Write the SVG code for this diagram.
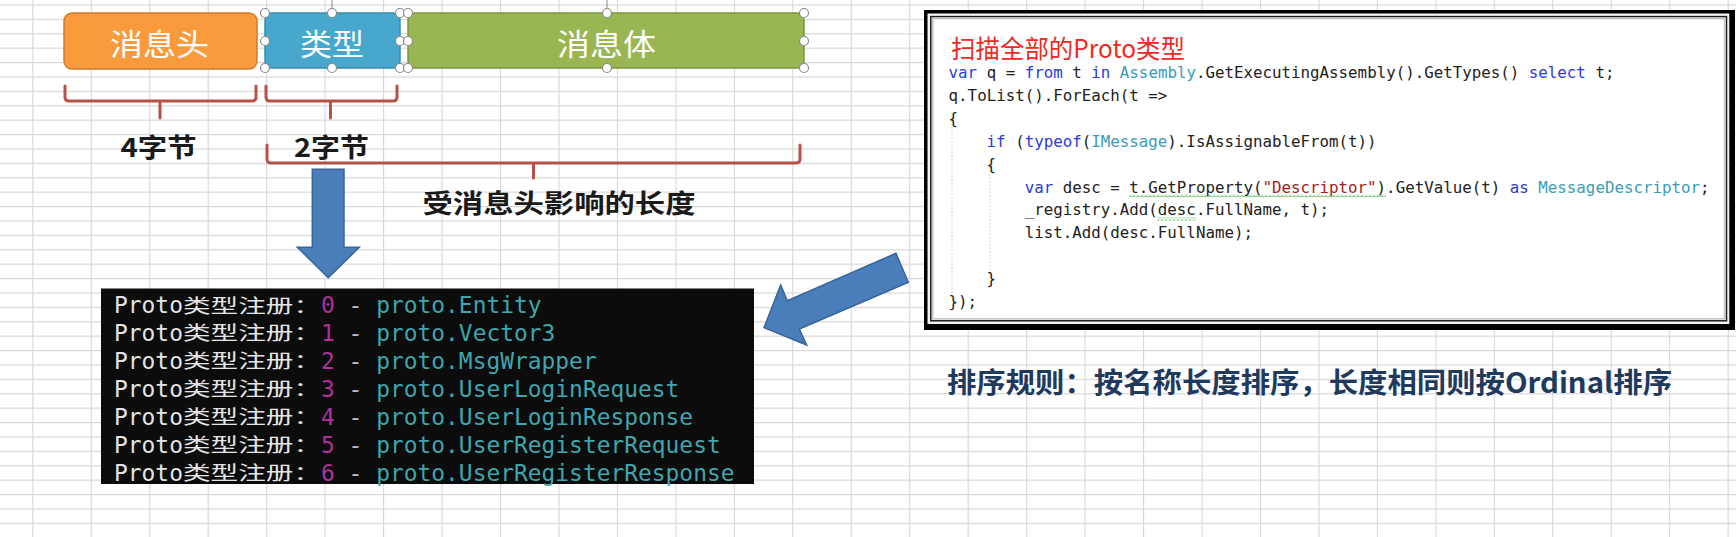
<svg xmlns="http://www.w3.org/2000/svg" width="1736" height="537" viewBox="0 0 1736 537">
<style>
.cjk{font-family:'Noto Sans CJK SC','Noto Sans',sans-serif}
.boxlbl{font-size:30px;fill:#ffffff}
.brace{fill:none;stroke:#b5524a;stroke-width:3;stroke-linecap:round;stroke-linejoin:round}
.handle{fill:#ffffff;stroke:#8a8a8a;stroke-width:1.2}
.rot{stroke:#8a8a8a;stroke-width:1}
.blk{fill:#4a7ebb;stroke:#3a6496;stroke-width:1.5;stroke-linejoin:miter}
.kw{fill:#2a3bd6}
.ty{fill:#3b9cb8}
.st{fill:#a8201a}
.tw{fill:#e4e4e4}
.num{fill:#b0309a}
.dash{fill:#bdbdbd}
.nm{fill:#3fa5ae}
.mono{font-family:'DejaVu Sans Mono','Liberation Mono',monospace}
.code{font-size:15.8px;fill:#222222}
.term{font-size:22.9px}
</style>
<defs>
<pattern id="grid" patternUnits="userSpaceOnUse" x="32.3" y="18.8" width="58.46" height="14.4">
<path d="M0 0.5H58.46M0.5 0V14.4" stroke="#d6d6d6" stroke-width="1.2" fill="none"/>
</pattern>
<pattern id="wavy" patternUnits="userSpaceOnUse" x="0" y="0" width="4" height="3">
<path d="M0 2.5L2 0.5L4 2.5" stroke="#3aa53a" stroke-width="1" fill="none"/>
</pattern>
</defs>
<rect x="0" y="0" width="1736" height="537" fill="#ffffff"/>
<rect x="0" y="0" width="1736" height="537" fill="url(#grid)"/>

<g id="header-box">
<rect x="64" y="13" width="193" height="56" rx="8" fill="#f99b3c" stroke="#cf7b2c" stroke-width="1.5"/>
<text class="cjk boxlbl" x="110" y="54.5" textLength="99" lengthAdjust="spacingAndGlyphs">消息头</text>
</g>
<g id="type-box">
<rect x="265" y="13" width="135" height="55" rx="7" fill="#47a7cd" stroke="#3a8aad" stroke-width="1.5"/>
<text class="cjk boxlbl" x="300" y="54.5" textLength="64" lengthAdjust="spacingAndGlyphs">类型</text>
<line class="rot" x1="332" y1="0" x2="332" y2="13"/>
<circle class="handle" cx="265" cy="13" r="4.5"/><circle class="handle" cx="332" cy="13" r="4.5"/><circle class="handle" cx="400" cy="13" r="4.5"/>
<circle class="handle" cx="265" cy="41" r="4.5"/><circle class="handle" cx="400" cy="41" r="4.5"/>
<circle class="handle" cx="265" cy="68" r="4.5"/><circle class="handle" cx="332" cy="68" r="4.5"/><circle class="handle" cx="400" cy="68" r="4.5"/>
</g>
<g id="body-box">
<rect x="408" y="13" width="396" height="55" rx="7" fill="#9ab653" stroke="#7a9640" stroke-width="1.5"/>
<text class="cjk boxlbl" x="557" y="54.5" textLength="99" lengthAdjust="spacingAndGlyphs">消息体</text>
<line class="rot" x1="607" y1="0" x2="607" y2="13"/>
<circle class="handle" cx="408" cy="13" r="4.5"/><circle class="handle" cx="607" cy="13" r="4.5"/><circle class="handle" cx="804" cy="13" r="4.5"/>
<circle class="handle" cx="408" cy="41" r="4.5"/><circle class="handle" cx="804" cy="41" r="4.5"/>
<circle class="handle" cx="408" cy="68" r="4.5"/><circle class="handle" cx="607" cy="68" r="4.5"/><circle class="handle" cx="804" cy="68" r="4.5"/>
</g>

<g id="brace-4bytes">
<path class="brace" d="M65 86V97Q65 101 69 101H252Q256 101 256 97V86M160 101V118"/>
<text class="cjk" x="120.5" y="156.5" font-size="26" font-weight="bold" fill="#1a1a1a" textLength="76" lengthAdjust="spacingAndGlyphs">4字节</text>
</g>
<g id="brace-2bytes">
<path class="brace" d="M266 86V97Q266 101 270 101H393Q397 101 397 97V86M330.5 101V118"/>
<text class="cjk" x="294" y="156.5" font-size="26" font-weight="bold" fill="#1a1a1a" textLength="75" lengthAdjust="spacingAndGlyphs">2字节</text>
</g>
<g id="brace-affected">
<path class="brace" d="M267 145V159Q267 163 271 163H796Q800 163 800 159V145M533.5 163V178"/>
<text class="cjk" x="422.5" y="213" font-size="26" font-weight="bold" fill="#1a1a1a" textLength="273" lengthAdjust="spacingAndGlyphs">受消息头影响的长度</text>
</g>

<g id="terminal">
<rect x="101" y="288.5" width="653" height="195.5" fill="#0c0c0c"/>
<g class="mono term">
<text class="tw" x="114" y="313.3">Proto</text>
<text class="tw" x="114" y="341.2">Proto</text>
<text class="tw" x="114" y="369.1">Proto</text>
<text class="tw" x="114" y="397">Proto</text>
<text class="tw" x="114" y="424.9">Proto</text>
<text class="tw" x="114" y="452.8">Proto</text>
<text class="tw" x="114" y="480.7">Proto</text>
</g>
<g class="cjk" font-size="19.2">
<text class="tw" x="183" y="312.5" textLength="138" lengthAdjust="spacingAndGlyphs">类型注册：</text>
<text class="tw" x="183" y="340.4" textLength="138" lengthAdjust="spacingAndGlyphs">类型注册：</text>
<text class="tw" x="183" y="368.3" textLength="138" lengthAdjust="spacingAndGlyphs">类型注册：</text>
<text class="tw" x="183" y="396.2" textLength="138" lengthAdjust="spacingAndGlyphs">类型注册：</text>
<text class="tw" x="183" y="424.1" textLength="138" lengthAdjust="spacingAndGlyphs">类型注册：</text>
<text class="tw" x="183" y="452" textLength="138" lengthAdjust="spacingAndGlyphs">类型注册：</text>
<text class="tw" x="183" y="479.9" textLength="138" lengthAdjust="spacingAndGlyphs">类型注册：</text>
</g>
<g class="mono term" xml:space="preserve">
<text x="321" y="313.3"><tspan class="num">0</tspan><tspan class="dash"> - </tspan><tspan class="nm">proto.Entity</tspan></text>
<text x="321" y="341.2"><tspan class="num">1</tspan><tspan class="dash"> - </tspan><tspan class="nm">proto.Vector3</tspan></text>
<text x="321" y="369.1"><tspan class="num">2</tspan><tspan class="dash"> - </tspan><tspan class="nm">proto.MsgWrapper</tspan></text>
<text x="321" y="397"><tspan class="num">3</tspan><tspan class="dash"> - </tspan><tspan class="nm">proto.UserLoginRequest</tspan></text>
<text x="321" y="424.9"><tspan class="num">4</tspan><tspan class="dash"> - </tspan><tspan class="nm">proto.UserLoginResponse</tspan></text>
<text x="321" y="452.8"><tspan class="num">5</tspan><tspan class="dash"> - </tspan><tspan class="nm">proto.UserRegisterRequest</tspan></text>
<text x="321" y="480.7"><tspan class="num">6</tspan><tspan class="dash"> - </tspan><tspan class="nm">proto.UserRegisterResponse</tspan></text>
</g>
</g>

<g id="code-box">
<rect x="924" y="10" width="811" height="320" fill="#000000"/>
<rect x="927.5" y="13.5" width="801.8" height="310.5" fill="#f4f4f4"/>
<rect x="930.8" y="16.6" width="795.7" height="304.2" fill="#ffffff" stroke="#1a1a1a" stroke-width="1.5"/>
<rect x="932.8" y="18.6" width="791.7" height="300.2" fill="none" stroke="#c4c4c4" stroke-width="1.5"/>
<text class="cjk" x="951" y="57.5" font-size="25" fill="#ee2a24" textLength="234" lengthAdjust="spacingAndGlyphs">扫描全部的Proto类型</text>
<line x1="952" y1="113" x2="952" y2="295" stroke="#c8c8c8" stroke-width="1" stroke-dasharray="1.5 2"/>
<line x1="990" y1="160" x2="990" y2="275" stroke="#c8c8c8" stroke-width="1" stroke-dasharray="1.5 2"/>
<rect x="1129.5" y="194.5" width="256.5" height="3" fill="url(#wavy)"/>
<rect x="1157" y="217.5" width="39" height="3" fill="url(#wavy)"/>
<g class="mono code">
<text x="948.6" y="78"><tspan class="kw">var</tspan> q = <tspan class="kw">from</tspan> t <tspan class="kw">in</tspan> <tspan class="ty">Assembly</tspan>.GetExecutingAssembly().GetTypes() <tspan class="kw">select</tspan> t;</text>
<text x="948.6" y="100.9">q.ToList().ForEach(t =&gt;</text>
<text x="948.6" y="123.8">{</text>
<text x="986.6" y="146.7"><tspan class="kw">if</tspan> (<tspan class="kw">typeof</tspan>(<tspan class="ty">IMessage</tspan>).IsAssignableFrom(t))</text>
<text x="986.6" y="169.6">{</text>
<text x="1024.7" y="192.5"><tspan class="kw">var</tspan> desc = t.GetProperty(<tspan class="st">"Descriptor"</tspan>).GetValue(t) <tspan class="kw">as</tspan> <tspan class="ty">MessageDescriptor</tspan>;</text>
<text x="1024.7" y="215.4">_registry.Add(desc.FullName, t);</text>
<text x="1024.7" y="238.3">list.Add(desc.FullName);</text>
<text x="986.6" y="284.1">}</text>
<text x="948.6" y="307">});</text>
</g>
</g>

<g id="sort-rule">
<text class="cjk" x="947" y="393" font-size="28" font-weight="bold" fill="#1f3a5c" textLength="725" lengthAdjust="spacingAndGlyphs">排序规则：按名称长度排序，长度相同则按Ordinal排序</text>
</g>

<g id="connectors">
<polygon class="blk" points="312.3,169.3 344,169.3 344,247.3 359.3,247.3 328.3,277.7 297.3,247.3 312.3,247.3"/>
<polygon class="blk" points="764,327.7 780.7,285 787.3,300.7 896,253.3 908.3,282.3 799.3,329 806.7,345"/>
</g>
</svg>
